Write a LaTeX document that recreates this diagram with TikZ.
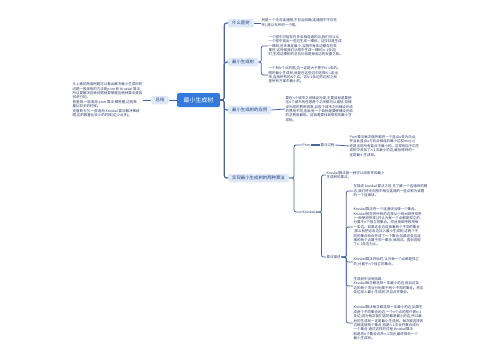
\documentclass[tikz,border=0pt]{standalone}
\usepackage{fontspec}
\setmainfont{Noto Sans CJK SC}
\usepackage{tikz}
\definecolor{rootblue}{RGB}{52,122,222}
\definecolor{topicfill}{RGB}{222,232,247}
\definecolor{topicink}{RGB}{35,70,130}
\definecolor{linkblue}{RGB}{72,104,155}
\definecolor{leafink}{RGB}{45,60,105}
\tikzset{
  rootnode/.style={rectangle, fill=rootblue, text=white, rounded corners=2pt,
    minimum width=43bp, minimum height=14bp, inner sep=1pt,
    font=\fontsize{6}{7}\selectfont},
  topic/.style={rectangle, fill=topicfill, text=topicink, rounded corners=1.5pt,
    minimum height=8.5bp, inner xsep=4bp, inner ysep=1pt,
    font=\fontsize{4.4}{5}\selectfont},
  tag/.style={inner sep=0.5pt, text=leafink, font=\fontsize{3.5}{4.4}\selectfont},
  leaf/.style={inner sep=0.5pt, align=left, text=leafink,
    font=\fontsize{3.5}{4.4}\selectfont},
  link/.style={draw=linkblue, line width=0.8pt, rounded corners=2bp},
  trunk/.style={draw=linkblue, line width=1.1pt, rounded corners=2.5bp}
}

\begin{document}
\begin{tikzpicture}[x=1bp, y=-1bp]
  \useasboundingbox (0,0) rectangle (500,360);

  % ── left side: summary ─────────────────────────────────────────────
  \node[rootnode] (root) at (198.5,100) {最小生成树};
  \node[topic] (zongjie) at (160,100) {总结};
  \node[leaf, anchor=east] (sumtext) at (143,100) {%
    从上面的两道例题可以看出解决最小生成树的\\
    问题一般采用的方法是prim 和 Kruskal 算法,\\
    所以要解决这种问题就要掌握这两种算法是如\\
    何进行的。\\
    普里姆:一般适用 prim 算法 稠密图,边的数\\
    量比较多的时候。\\
    克鲁斯卡尔:一般适用 Kruskal 算法解决稀疏\\
    图,边的数量比较少的时候(边少点多)。};
  \draw[link] (zongjie.west) -- (sumtext.east);
  \draw[link] (root.west) -- (zongjie.east);

  % ── right side: topics ─────────────────────────────────────────────
  \node[topic, anchor=west] (shu) at (228,23) {什么是树};
  \node[topic, anchor=west] (mst) at (228,62) {最小生成树};
  \node[topic, anchor=west] (app) at (228,110) {最小生成树的应用};
  \node[topic, anchor=west] (algo) at (228,178) {实现最小生成树的两种算法};
  \foreach \t in {shu, mst, app, algo}
    \draw[trunk] (root.east) -- ++(4,0) |- (\t.west);

  % what is a tree
  \node[leaf, anchor=west] (shuA) at (261,23) {%
    树是一个无向连通图,不包含回路(连通图中不存在\\
    环),是以无环的一个图。};
  \draw[link] (shu.east) -- (shuA.west);

  % minimum spanning tree
  \node[leaf, anchor=west] (mstA) at (268,46) {%
    一个图中可能存在多条相连通的边,我们可以从\\
    一个图中挑出一些边生成一棵树。这仅仅是生成\\
    一棵树,还未满足最小,当图中每条边都存在权\\
    重时,这时候我们从图中生成一棵树(n-1条边)\\
    时,生成这棵树的总代价就是每条边的权重之和。};
  \node[leaf, anchor=west] (mstB) at (268,75) {%
    一个有N个点的图,边一定是大于等于N-1条的。\\
    图的最小生成树,就是在这些边中选择N-1条出\\
    来,连接所有的N个点。这N-1条边的边权之和\\
    是所有方案中最小的。};
  \foreach \c in {mstA, mstB}
    \draw[link] (mst.east) -- ++(3,0) |- (\c.west);

  % applications
  \node[leaf, anchor=west] (appA) at (285,109) {%
    要在n个城市之间铺设光缆,主要目标是要使\\
    这n个城市的任意两个之间都可以通信,但铺\\
    设光缆的费用很高,且各个城市之间铺设光缆\\
    的费用不同,因此另一个目标是要使铺设光缆\\
    的总费用最低。这就需要找到带权的最小生\\
    成树。};
  \draw[link] (app.east) -- (appA.west);

  % ── two algorithms ─────────────────────────────────────────────────
  \node[tag, anchor=west] (prim) at (302,145) {Prim};
  \node[tag, anchor=west] (kruskal) at (302,212) {Kruskal};
  \foreach \c in {prim, kruskal}
    \draw[link] (algo.east) -- ++(5,0) |- (\c.west);

  % Prim
  \node[tag, anchor=west] (primstep) at (320,145) {算法过程};
  \node[leaf, anchor=west] (primA) at (349,146) {%
    Prim算法每次循环都将一个蓝点u变为白点,\\
    并且此蓝点u与白点相连的最小边权min[u]\\
    还是当前所有蓝点中最小的。这样相当于向生\\
    成树中添加了n-1次最小的边,最后得到的一\\
    定是最小生成树。};
  \draw[link, line width=1.1pt] (prim.east) -- (primstep.west);
  \draw[link] (primstep.east) -- (primA.west);

  % Kruskal
  \node[leaf, anchor=west] (krA) at (326,175) {%
    Kruskal算法是一种可以用来寻找最小\\
    生成树的算法。};
  \node[tag, anchor=west] (krdesc) at (326,257) {算法描述};
  \foreach \c in {krA, krdesc}
    \draw[link] (kruskal.east) -- ++(6,0) |- (\c.west);

  % Kruskal description
  \node[leaf, anchor=west] (descA) at (353,191) {%
    在描述 kruskal 算法之前,先了解一个连通块的概\\
    念,我们将无向图中相互连通的一些点称为该图\\
    的一个连通块。};
  \node[leaf, anchor=west] (descB) at (353,227) {%
    Kruskal算法将一个连通块当做一个集合。\\
    Kruskal首先将所有的边按从小到大顺序排序\\
    (一般使用快排),并认为每一个点都是孤立的,\\
    分属于n个独立的集合。然后按顺序枚举每\\
    一条边。如果这条边连接着两个不同的集合\\
    ,那么就把这条边加入最小生成树,这两个不\\
    同的集合就合并成了一个集合;如果这条边连\\
    接的两个点属于同一集合,就跳过。直到选取\\
    了n-1条边为止。};
  \node[leaf, anchor=west] (descC) at (353,262) {%
    Kruskal算法开始时,认为每一个点都是孤立\\
    的,分属于n个独立的集合。};
  \node[leaf, anchor=west] (descD) at (353,286) {%
    生成树中没有回路\\
    Kruskal每次都选择一条最小的边,而且这条\\
    边的两个顶点分别属于两个不同的集合。将这\\
    条边加入最小生成树,并且合并集合。};
  \node[leaf, anchor=west] (descE) at (353,323) {%
    Kruskal算法每次都选择一条最小的边,如果生\\
    成两个不同集合的边,一个n个点的图只需n-1\\
    条边,因为每次我们选的都是最小的边,所以最\\
    后的生成树一定是最小生成树。每次被选择的\\
    边都连接两个集合,就是n-1次合并集合成为\\
    一个集合,通过这样的过程,Kruskal算法\\
    就是将n个集合合并n-1次后,最终得到一个\\
    最小生成树。};
  \foreach \c in {descA, descB, descC, descD, descE}
    \draw[link] (krdesc.east) -- ++(5,0) |- (\c.west);
\end{tikzpicture}
\end{document}
